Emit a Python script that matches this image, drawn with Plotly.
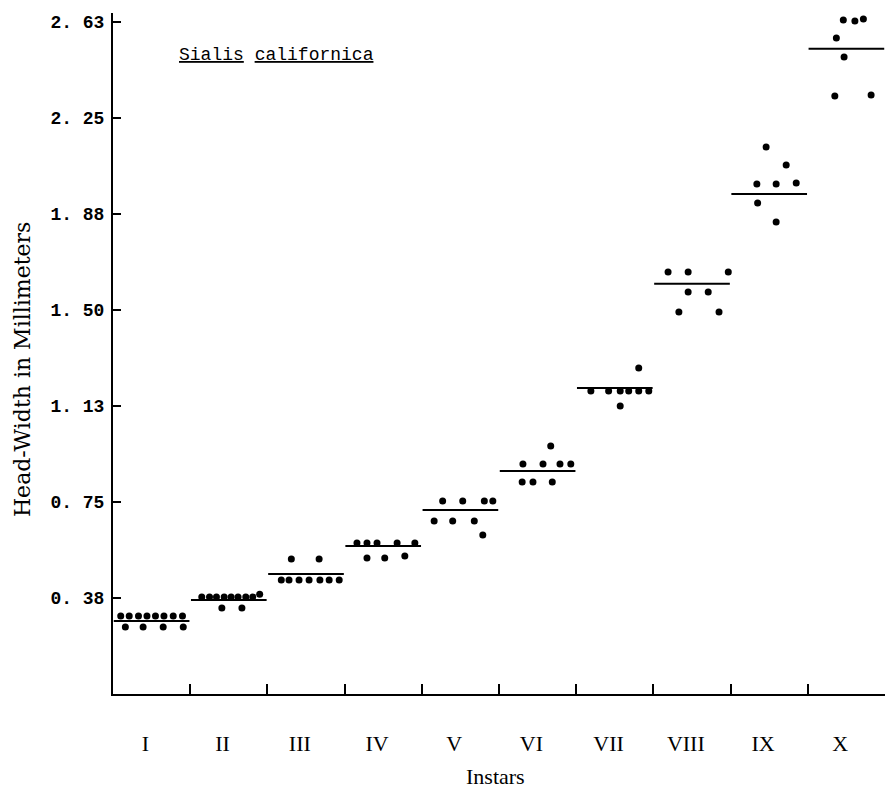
import plotly.graph_objects as go

instars = ["I", "II", "III", "IV", "V", "VI", "VII", "VIII", "IX", "X"]
y_ticks = [0.375, 0.75, 1.125, 1.5, 1.875, 2.25, 2.625]
y_tick_labels = ["0. 38", "0. 75", "1. 13", "1. 50", "1. 88", "2. 25", "2. 63"]

# instar means (horizontal bars)
means = [0.285, 0.367, 0.469, 0.578, 0.719, 0.871, 1.195, 1.602, 1.953, 2.52]

# individual measurements: horizontal position within the instar band and head width
dots_x = [
    [0.10, 0.21, 0.33, 0.44, 0.55, 0.66, 0.78, 0.90, 0.16, 0.39, 0.65, 0.91],
    [1.15, 1.25, 1.34, 1.44, 1.53, 1.62, 1.72, 1.81, 1.90, 1.41, 1.67],
    [2.18, 2.28, 2.41, 2.54, 2.68, 2.80, 2.93, 2.31, 2.67],
    [3.16, 3.29, 3.42, 3.68, 3.91, 3.29, 3.52, 3.78],
    [4.27, 4.53, 4.81, 4.92, 4.16, 4.40, 4.68, 4.79],
    [5.31, 5.57, 5.79, 5.93, 5.67, 5.30, 5.44, 5.69],
    [6.19, 6.42, 6.57, 6.68, 6.81, 6.94, 6.81, 6.57],
    [7.19, 7.45, 7.97, 7.45, 7.71, 7.33, 7.85],
    [8.46, 8.72, 8.34, 8.59, 8.85, 8.35, 8.59],
    [9.46, 9.61, 9.72, 9.37, 9.47, 9.35, 9.82],
]
dots_y = [
    [0.305, 0.305, 0.305, 0.305, 0.305, 0.305, 0.305, 0.305, 0.262, 0.262, 0.262, 0.262],
    [0.379, 0.379, 0.379, 0.379, 0.379, 0.379, 0.379, 0.379, 0.39, 0.336, 0.336],
    [0.445, 0.445, 0.445, 0.445, 0.445, 0.445, 0.445, 0.527, 0.527],
    [0.59, 0.59, 0.59, 0.59, 0.59, 0.531, 0.531, 0.539],
    [0.754, 0.754, 0.754, 0.754, 0.676, 0.676, 0.676, 0.621],
    [0.898, 0.898, 0.898, 0.898, 0.969, 0.828, 0.828, 0.828],
    [1.184, 1.184, 1.184, 1.184, 1.184, 1.184, 1.273, 1.125],
    [1.648, 1.648, 1.648, 1.570, 1.570, 1.492, 1.492],
    [2.137, 2.066, 1.992, 1.992, 1.996, 1.918, 1.844],
    [2.633, 2.629, 2.637, 2.5625, 2.488, 2.336, 2.34],
]

fig = go.Figure()

for i, m in enumerate(means):
    fig.add_trace(go.Scatter(
        x=[i + 0.01, i + 0.99], y=[m, m], mode="lines",
        line=dict(color="black", width=2), showlegend=False, hoverinfo="skip"))

for xs, ys in zip(dots_x, dots_y):
    fig.add_trace(go.Scatter(
        x=xs, y=ys, mode="markers",
        marker=dict(color="black", size=7), showlegend=False))

fig.update_layout(
    width=885, height=792,
    margin=dict(l=113, r=0, t=13, b=98),
    paper_bgcolor="white", plot_bgcolor="white",
    showlegend=False,
    xaxis=dict(
        range=[0, 10], showgrid=False, zeroline=False,
        showline=True, linecolor="black", linewidth=2,
        tickmode="array", tickvals=[i + 0.42 for i in range(10)], ticktext=instars,
        ticks="", ticklabelstandoff=29,
        tickfont=dict(family="Liberation Serif", size=22, color="black"),
        minor=dict(tickmode="array", tickvals=list(range(1, 10)), ticks="inside",
                   ticklen=10, tickwidth=2, tickcolor="black", showgrid=False),
    ),
    yaxis=dict(
        range=[0, 2.66], showgrid=False, zeroline=False,
        showline=True, linecolor="black", linewidth=2,
        tickmode="array", tickvals=y_ticks, ticktext=y_tick_labels,
        ticks="inside", ticklen=8, tickwidth=2, tickcolor="black",
        ticklabelstandoff=3,
        tickfont=dict(family="Liberation Mono", size=18, color="black", weight="bold"),
    ),
    annotations=[
        dict(text="Instars", xref="paper", yref="paper", x=0.495, y=0,
             yshift=-82, xanchor="center", yanchor="middle", showarrow=False,
             font=dict(family="Liberation Serif", size=22, color="black")),
        dict(text="Head-Width in Millimeters", xref="paper", yref="paper",
             x=-0.118, y=0.477, xanchor="center", yanchor="middle", textangle=-90,
             showarrow=False,
             font=dict(family="DejaVu Serif", size=22, color="black")),
        dict(text="<u>Sialis</u> <u>californica</u>", xref="x", yref="y",
             x=2.12, y=2.495, xanchor="center", yanchor="middle", showarrow=False,
             font=dict(family="Liberation Mono", size=18, color="black")),
    ],
)

fig.write_html("out.html")
